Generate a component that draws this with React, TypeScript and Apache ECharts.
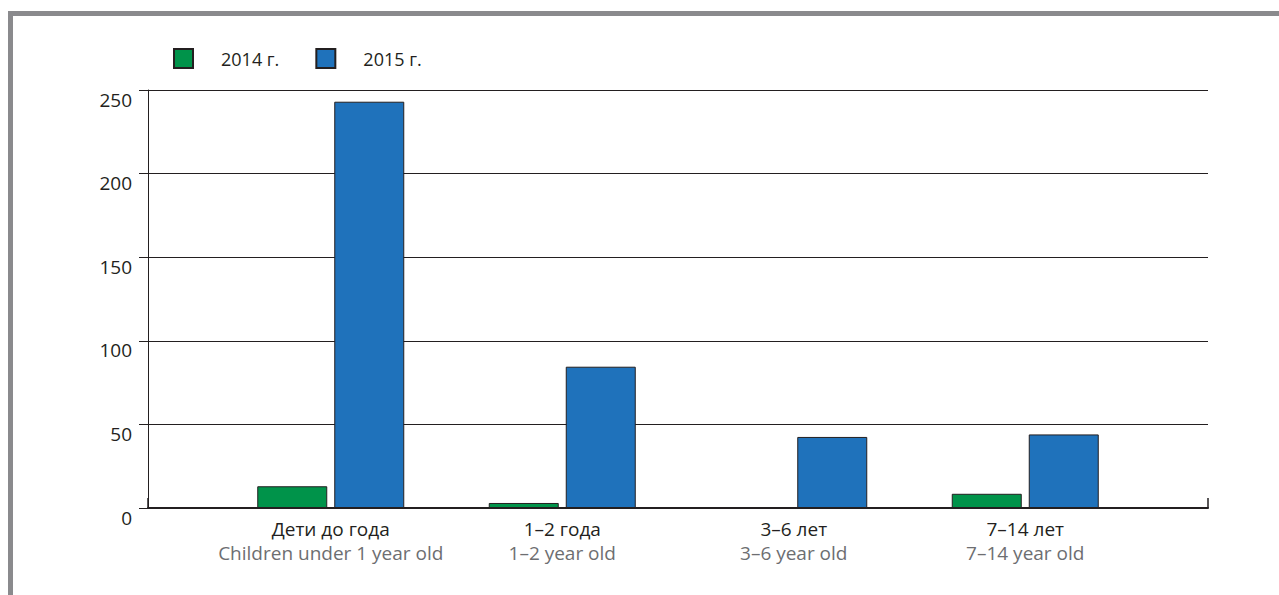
import React, { useEffect, useRef } from "react";
import * as echarts from "echarts";

const categoriesRu = ["Дети до года", "1–2 года", "3–6 лет", "7–14 лет"];
const categoriesEn = ["Children under 1 year old", "1–2 year old", "3–6 year old", "7–14 year old"];
const seriesNames = ["2014 г.", "2015 г."];
const values2014 = [13, 3, 0, 8.5];
const values2015 = [243, 84.5, 42.5, 44];
const yTicks = { min: 0, max: 250, interval: 50 };

const FONT = "'Open Sans', 'Noto Sans', sans-serif";
const GREEN = "#00934a";
const BLUE = "#1f72bb";
const DARK = "#231f20";

export default function App() {
  const ref = useRef<HTMLDivElement>(null);
  useEffect(() => {
    if (!ref.current) return;
    const chart = echarts.init(ref.current, null, { renderer: "svg" });
    chart.setOption({
      animation: false,
      backgroundColor: "#ffffff",
      textStyle: { fontFamily: FONT },
      graphic: [
        { type: "rect", shape: { x: 8, y: 11, width: 1271, height: 5 }, style: { fill: "#8a8a8d" } },
        { type: "rect", shape: { x: 8, y: 11, width: 5, height: 584 }, style: { fill: "#8a8a8d" } },
      ],
      legend: {
        data: seriesNames,
        left: 173,
        top: 48,
        padding: 0,
        itemWidth: 19,
        itemHeight: 19,
        itemGap: 36,
        icon: "rect",
        textStyle: { fontSize: 18, color: DARK, fontFamily: FONT, padding: [0, 0, 0, 23] },
      },
      grid: [
        { left: 148, right: 71, top: 90, bottom: 87, containLabel: false },
        { left: 215, right: 138, top: 90, bottom: 87, containLabel: false },
      ],
      xAxis: [
        {
          gridIndex: 0,
          type: "category",
          data: [""],
          axisLine: { show: true, lineStyle: { color: DARK, width: 2 } },
          axisTick: { show: true, inside: true, length: 10, lineStyle: { color: DARK, width: 1.5 } },
          axisLabel: { show: false },
          splitLine: { show: false },
        },
        {
          gridIndex: 1,
          type: "category",
          data: categoriesRu,
          axisLine: { show: false },
          axisTick: { show: false },
          axisLabel: {
            margin: 9,
            formatter: (v: string, i: number) => `{a|${v}}\n{b|${categoriesEn[i]}}`,
            rich: {
              a: { fontSize: 19, lineHeight: 24, color: DARK, fontFamily: FONT },
              b: { fontSize: 19, lineHeight: 24, color: "#6d6e71", fontFamily: FONT },
            },
          },
        },
      ],
      yAxis: [
        {
          gridIndex: 0,
          type: "value",
          min: yTicks.min,
          max: yTicks.max,
          interval: yTicks.interval,
          axisLine: { show: true, lineStyle: { color: DARK, width: 1 } },
          axisTick: { show: true, inside: false, length: 9, lineStyle: { color: DARK, width: 1 } },
          splitLine: { show: true, lineStyle: { color: DARK, width: 1 } },
          axisLabel: {
            margin: 16,
            fontSize: 19,
            color: DARK,
            fontFamily: FONT,
            verticalAlign: "top",
          },
        },
        {
          gridIndex: 1,
          type: "value",
          min: yTicks.min,
          max: yTicks.max,
          interval: yTicks.interval,
          show: false,
          splitLine: { show: false },
        },
      ],
      series: [
        {
          name: seriesNames[0],
          type: "bar",
          xAxisIndex: 1,
          yAxisIndex: 1,
          data: values2014,
          barWidth: 70,
          barGap: "10%",
          itemStyle: { color: GREEN, borderColor: DARK, borderWidth: 1 },
          z: 3,
        },
        {
          name: seriesNames[1],
          type: "bar",
          xAxisIndex: 1,
          yAxisIndex: 1,
          data: values2015,
          barWidth: 70,
          barGap: "10%",
          itemStyle: { color: BLUE, borderColor: DARK, borderWidth: 1 },
          z: 3,
        },
      ],
    });
    return () => chart.dispose();
  }, []);
  return (
    <div
      ref={ref}
      style={{ position: "fixed", left: 0, top: 0, width: 1279, height: 595 }}
    />
  );
}
